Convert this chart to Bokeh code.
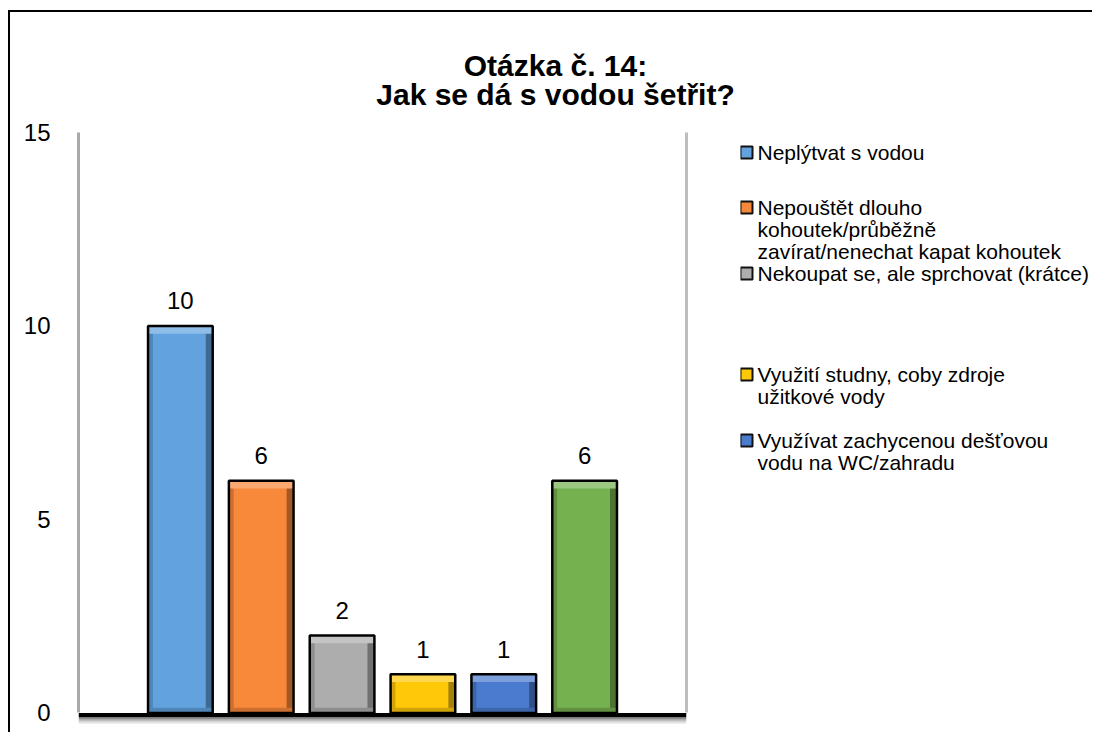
from bokeh.plotting import figure
from bokeh.layouts import column, row
from bokeh.models import (Range1d, LinearAxis, FixedTicker, BoxAnnotation,
                          ColumnDataSource)
from bokeh.core.properties import value
from bokeh.embed import file_html
from bokeh.resources import INLINE

# ---------------- data ----------------
title_lines = ["Otázka č. 14:", "Jak se dá s vodou šetřit?"]
answers = [
    "Neplýtvat s vodou",
    "Nepouštět dlouho kohoutek/průběžně zavírat/nenechat kapat kohoutek",
    "Nekoupat se, ale sprchovat (krátce)",
    "Využití studny, coby zdroje užitkové vody",
    "Využívat zachycenou dešťovou vodu na WC/zahradu",
    "Jiné",
]
counts = [10, 6, 2, 1, 1, 6]
legend_lines = [
    ["Neplýtvat s vodou"],
    ["Nepouštět dlouho", "kohoutek/průběžně", "zavírat/nenechat kapat kohoutek"],
    ["Nekoupat se, ale sprchovat (krátce)"],
    ["Využití studny, coby zdroje", "užitkové vody"],
    ["Využívat zachycenou dešťovou", "vodu na WC/zahradu"],
]
y_ticks = [0, 5, 10, 15]

# ---------------- styles / layout ----------------
colors = ["#62A3DF", "#F8893A", "#ADADAD", "#FFC90A", "#4A7BCF", "#76B14F"]
FONT_NAME = "Liberation Sans"
FONT = value(FONT_NAME)
# legend positions: px below the top of the plot frame
legend_first_line_y = [20, 75, 141, 242, 308]
legend_line_h = 22
title_line_y = [53, 82]                          # px from top of title panel


def mix(hexc, other, t):
    h = hexc.lstrip("#")
    r, g, b = (int(h[i:i + 2], 16) for i in (0, 2, 4))
    r = round(r + (other[0] - r) * t)
    g = round(g + (other[1] - g) * t)
    b = round(b + (other[2] - b) * t)
    return "#%02x%02x%02x" % (r, g, b)


light = [mix(c, (255, 255, 255), 0.28) for c in colors]
dark = [mix(c, (0, 0, 0), 0.35) for c in colors]
dark2 = [mix(c, (0, 0, 0), 0.18) for c in colors]


def blank(fig):
    fig.outline_line_color = None
    fig.xgrid.visible = False
    fig.ygrid.visible = False
    return fig


# ---------------- title panel ----------------
TW, TH = 1082, 100
tfig = blank(figure(width=TW, height=TH, output_backend="svg",
                    toolbar_location=None, x_range=Range1d(0, TW),
                    y_range=Range1d(TH, 0), x_axis_location=None,
                    y_axis_location=None, min_border=0))
tfig.text(x=[545] * len(title_lines), y=title_line_y, text=title_lines,
          text_align="center", text_baseline="middle", text_font=FONT,
          text_font_style="bold", text_font_size="30px", text_color="black")

# ---------------- main chart ----------------
idx = list(range(len(counts)))
src = ColumnDataSource(dict(
    x=idx,
    top=counts,
    name=answers,
    label=[str(v) for v in counts],
    color=colors,
    light=light,
    dark=dark,
    dark2=dark2,
    top_strip_bottom=[v - 0.2 for v in counts],
    x_right=[i + 0.357 for i in idx],
    x_left=[i - 0.37 for i in idx],
    bottom_strip_top=[min(0.13, v) for v in counts],
))

MW, MH = 730, 620
BT, BB = 20, 8
p = figure(width=MW, height=MH, output_backend="svg", toolbar_location=None,
           x_range=Range1d(-1.26, 6.26), y_range=Range1d(-0.3, 15),
           min_border_left=68, min_border_right=54, min_border_top=BT,
           min_border_bottom=BB, x_axis_location=None)
p.outline_line_color = None
p.xgrid.visible = False
p.ygrid.visible = False

ya = p.yaxis[0]
ya.ticker = FixedTicker(ticks=y_ticks)
ya.bounds = (0, 15)
ya.major_label_text_font = FONT_NAME
ya.major_label_text_font_size = "24px"
ya.major_label_text_color = "black"
ya.major_tick_line_color = None
ya.minor_tick_line_color = None
ya.axis_line_color = "#a9a9a9"
ya.axis_line_width = 3
ya.major_label_standoff = 22

ra = LinearAxis(ticker=FixedTicker(ticks=[]), bounds=(0, 15),
                axis_line_color="#bdbdbd", axis_line_width=3,
                major_tick_line_color=None, minor_tick_line_color=None,
                major_label_text_color=None)
p.add_layout(ra, "right")

# floor and its shadow
p.add_layout(BoxAnnotation(top=0, bottom=-0.115, fill_color="black",
                           fill_alpha=1, line_color=None))
for (t, b, a) in [(-0.115, -0.17, 0.45), (-0.17, -0.22, 0.25), (-0.22, -0.28, 0.1)]:
    p.add_layout(BoxAnnotation(top=t, bottom=b, fill_color="black",
                               fill_alpha=a, line_color=None))

# bars with bevel
bars = p.vbar(x="x", top="top", bottom=0, width=0.8, source=src,
              fill_color="color", line_color=None)
p.vbar(x="x_right", top="top", bottom=0, width=0.086, source=src,
       fill_color="dark", line_color=None)
p.vbar(x="x_left", top="top", bottom=0, width=0.06, source=src,
       fill_color="dark2", line_color=None)
p.vbar(x="x", top="bottom_strip_top", bottom=0, width=0.8, source=src,
       fill_color="dark2", line_color=None)
p.vbar(x="x", top="top", bottom="top_strip_bottom", width=0.8, source=src,
       fill_color="light", line_color=None)
p.vbar(x="x", top="top", bottom=0, width=0.8, source=src,
       fill_color=None, line_color="black", line_width=2.5)

p.text(x="x", y="top", text="label", source=src, y_offset=-25,
       text_align="center", text_baseline="middle", text_font=FONT,
       text_font_size="24px", text_color="black")

# ---------------- legend panel ----------------
LW = 352
LFH = MH - BT - BB   # frame height (frames of a row are aligned)
lfig = blank(figure(width=LW, height=MH, output_backend="svg",
                    toolbar_location=None, x_range=Range1d(0, LW),
                    y_range=Range1d(LFH, 0), x_axis_location=None,
                    y_axis_location=None, min_border_left=0,
                    min_border_right=0, min_border_top=BT,
                    min_border_bottom=BB))
n_entries = len(legend_lines)
lfig.scatter(x=[6] * n_entries, y=legend_first_line_y, marker="square",
             size=12, fill_color=colors[:n_entries], line_color="#111111",
             line_width=2)
tx, ty, tt = [], [], []
for lines, y0 in zip(legend_lines, legend_first_line_y):
    for k, s in enumerate(lines):
        tx.append(17)
        ty.append(y0 + k * legend_line_h)
        tt.append(s)
lfig.text(x=tx, y=ty, text=tt, text_align="left", text_baseline="middle",
          text_font=FONT, text_font_size="21px", text_color="black")

layout = column(tfig, row(p, lfig, spacing=0), spacing=0,
                styles={"margin-left": "8px", "margin-top": "10px",
                        "border-top": "2px solid black",
                        "border-left": "2px solid black"})

open("out.html", "w").write(file_html(layout, INLINE))
